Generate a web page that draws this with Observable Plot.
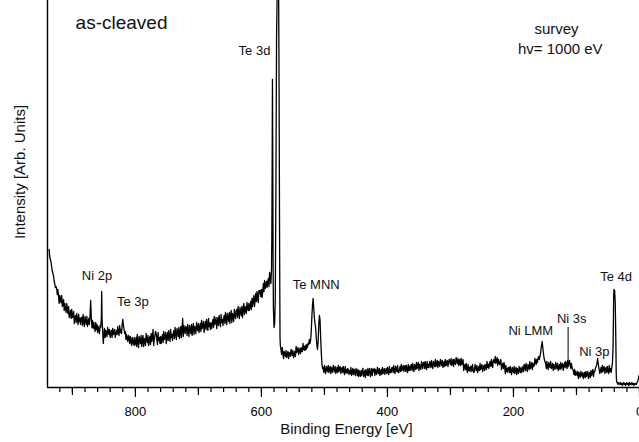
<!DOCTYPE html>
<html>
<head>
<meta charset="utf-8">
<script src="https://cdn.jsdelivr.net/npm/d3@7"></script>
<script src="https://cdn.jsdelivr.net/npm/@observablehq/plot@0.6"></script>
<style>
  html, body { margin: 0; padding: 0; background: #fff; overflow: hidden; }
  #chart svg { display: block; }
</style>
</head>
<body>
<div id="chart"></div>
<script>
// XPS survey spectrum, [binding energy (eV), intensity (arb. units)]
const spectrum = [
  // Ni 2p / Te 3p region
  [937,138],[936,131],[935,128],[934,126],[933,121],[932,117],[931,114],[930,112],[929,107],[928,104],
  [927,100],[926,101],[925,99],[924,93],[923,98],[922,91],[921,84],[920,92],[919,88],[918,85],
  [917,92],[916,81],[915,83],[914,88],[913,77],[912,84],[911,80],[910,75],[909,84],[908,78],
  [907,74],[906,81],[905,70],[904,73],[903,77],[902,69],[901,78],[900,70],[899,72],[898,76],
  [897,64],[896,70],[895,72],[894,65],[893,74],[892,68],[891,63],[890,73],[889,66],[888,69],
  [887,63],[886,70],[885,70],[884,62],[883,73],[882,66],[881,61],[880,71],[879,67],[878,63],
  [877,71],[876,61],[875,65],[874,69],[873,63],[872,72],[871,87],[870,70],[869,60],[868,67],
  [867,59],[866,65],[865,61],[864,56],[863,65],[862,58],[861,63],[860,55],[859,61],[858,57],
  [857,54],[856,62],[855,60],[854,70],[853.5,96],[853,70],[852,58],[851,44],[850,52],[849,59],
  [848,50],[847,57],[846,54],[845,51],[844,60],[843,56],[842,53],[841,58],[840,50],[839,54],
  [838,57],[837,50],[836,59],[835,53],[834,55],[833,58],[832,50],[831,54],[830,57],[829,53],
  [828,61],[827,56],[826,52],[825,62],[824,55],[823,58],[822,54],[821,63],[820,68],[819,62],
  [818,58],[817,54],[816,56],[815,48],[814,53],[813,49],[812,46],[811,52],[810,50],[809,44],
  [808,51],[807,47],[806,42],[805,50],[804,46],[803,43],[802,50],[801,42],[800,45],
  // rising background towards Te 3d
  [799,50],[798,41],[797,53],[796,45],[795,40],[794,51],[793,47],[792,44],[791,52],[790,41],
  [789,48],[788,52],[787,41],[786,49],[785,46],[784,42],[783,54],[782,48],[781,45],[780,52],
  [779,42],[778,47],[777,51],[776,43],[775,54],[774,46],[773,50],[772,58],[771,42],[770,48],
  [769,52],[768,56],[767,54],[766,48],[765,43],[764,55],[763,47],[762,50],[761,44],[760,51],
  [759,44],[758,49],[757,53],[756,45],[755,56],[754,48],[753,51],[752,55],[751,44],[750,50],
  [749,55],[748,47],[747,57],[746,51],[745,46],[744,58],[743,50],[742,53],[741,47],[740,54],
  [739,57],[738,49],[737,60],[736,53],[735,48],[734,59],[733,55],[732,51],[731,60],[730,49],
  [729,56],[728,61],[727,50],[726,58],[725,69],[724,51],[723,62],[722,57],[721,54],[720,61],
  [719,60],[718,52],[717,63],[716,56],[715,51],[714,62],[713,58],[712,54],[711,63],[710,52],
  [709,59],[708,64],[707,53],[706,61],[705,58],[704,54],[703,65],[702,60],[701,57],[700,64],
  [699,55],[698,60],[697,64],[696,56],[695,67],[694,59],[693,62],[692,66],[691,55],[690,61],
  [689,66],[688,58],[687,68],[686,62],[685,57],[684,69],[683,61],[682,64],[681,58],[680,65],
  [679,59],[678,64],[677,68],[676,60],[675,71],[674,63],[673,66],[672,70],[671,59],[670,65],
  [669,70],[668,62],[667,72],[666,66],[665,61],[664,73],[663,65],[662,68],[661,62],[660,69],
  [659,72],[658,64],[657,75],[656,68],[655,63],[654,74],[653,70],[652,66],[651,75],[650,64],
  [649,72],[648,77],[647,65],[646,74],[645,70],[644,66],[643,78],[642,72],[641,69],[640,77],
  [639,78],[638,70],[637,81],[636,74],[635,69],[634,80],[633,76],[632,72],[631,81],[630,70],
  [629,79],[628,84],[627,73],[626,81],[625,78],[624,74],[623,85],[622,80],[621,77],[620,84],
  [619,77],[618,82],[617,86],[616,78],[615,89],[614,81],[613,88],[612,92],[611,81],[610,87],
  [609,94],[608,86],[607,96],[606,90],[605,85],[604,97],[603,94],[602,97],[601,91],[600,98],
  [599,90],[598,95],[597,104],[596,96],[595,107],[594,99],[593,102],[592,106],[591,100],[590,106],
  [589,109],[588,101],[587,115],[586,109],[585,104],
  // Te 3d doublet and Te MNN Auger
  [584,118],[583.5,150],[583,220],[582.5,308],[582,230],[581.5,130],[581,80],[580,60],[579,64],[578,90],
  [577,200],[576,350],[574,440],[573,440],[572,300],[571,120],[570.5,50],[570,42],[569,38],[568,33],
  [567,40],[566,35],[565,29],[564,36],[563,34],[562,31],[561,37],[560,30],[559,33],[558,36],
  [557,29],[556,35],[555,33],[554,31],[553,38],[552,35],[551,32],[550,37],[549,30],[548,33],
  [547,36],[546,31],[545,41],[544,35],[543,38],[542,40],[541,33],[540,37],[539,39],[538,34],
  [537,40],[536,36],[535,36],[534,44],[533,38],[532,41],[531,37],[530,42],[529,38],[528,43],
  [527,40],[526,44],[525,43],[524,48],[523,44],[522,47],[521,55],[520,70],[519,82],[518,89],
  [517,80],[516,70],[515,64],[514,60],[513,50],[512,42],[511,38],[510,46],[509,62],[508,72],
  [507,68],[506,50],[505,35],[504,24],[503,19],
  // low background
  [502,20],[501,15],[500,22],[499,17],[498,14],[497,21],[496,19],[495,16],[494,22],[493,15],
  [492,18],[491,21],[490,14],[489,20],[488,17],[487,15],[486,22],[485,19],[484,16],[483,21],
  [482,14],[481,17],[480,20],[479,15],[478,22],[477,16],[476,19],[475,21],[474,14],[473,18],
  [472,20],[471,15],[470,21],[469,16],[468,13],[467,21],[466,15],[465,18],[464,14],[463,19],
  [462,18],[461,13],[460,17],[459,14],[458,20],[457,12],[456,15],[455,19],[454,13],[453,18],
  [452,16],[451,12],[450,19],[449,16],[448,12],[447,18],[446,11],[445,17],[444,13],[443,11],
  [442,17],[441,12],[440,16],[439,19],[438,11],[437,13],[436,17],[435,10],[434,18],[433,14],
  [432,12],[431,19],[430,12],[429,16],[428,19],[427,11],[426,14],[425,19],[424,12],[423,18],
  [422,16],[421,19],[420,12],[419,18],[418,15],[417,13],[416,20],[415,17],[414,14],[413,19],
  [412,12],[411,15],[410,18],[409,13],[408,20],[407,14],[406,17],[405,19],[404,13],[403,17],
  [402,19],[401,14],[400,20],[399,16],[398,13],[397,21],[396,15],[395,18],[394,15],[393,20],
  [392,20],[391,15],[390,22],[389,17],[388,14],[387,21],[386,19],[385,16],[384,22],[383,15],
  [382,15],[381,18],[380,21],[379,16],[378,23],[377,17],[376,20],[375,22],[374,16],[373,20],
  [372,22],[371,16],[370,22],[369,18],[368,15],[367,23],[366,17],[365,21],[364,17],[363,22],
  [362,23],[361,17],[360,24],[359,19],[358,16],[357,23],[356,21],[355,18],[354,25],[353,19],
  [352,21],[351,25],[350,17],[349,23],[348,20],[347,18],[346,26],[345,22],[344,19],[343,25],
  [342,25],[341,19],[340,26],[339,21],[338,18],[337,26],[336,20],[335,23],[334,20],[333,26],
  [332,25],[331,20],[330,27],[329,22],[328,19],[327,26],[326,24],[325,21],[324,28],[323,21],
  [322,24],[321,27],[320,20],[319,26],[318,23],[317,21],[316,28],[315,25],[314,22],[313,27],
  [312,20],[311,23],[310,26],[309,21],[308,28],[307,22],[306,25],[305,27],[304,21],[303,25],
  [302,28],[301,26],[300,23],[299,29],[298,22],[297,25],[296,28],[295,21],[294,28],[293,25],
  [292,23],[291,30],[290,27],[289,24],[288,29],[287,22],[286,25],[285,28],[284,22],[283,29],
  [282,23],[281,26],[280,28],[279,17],[278,21],[277,23],[276,18],[275,24],[274,18],[273,15],
  [272,23],[271,17],[270,20],[269,16],[268,21],[267,21],[266,16],[265,23],[264,18],[263,15],
  [262,16],[261,23],[260,20],[259,17],[258,22],[257,15],[256,18],[255,21],[254,17],[253,24],
  [252,18],[251,21],[250,23],[249,16],[248,20],[247,22],[246,17],[245,23],[244,21],[243,18],
  [242,26],[241,20],[240,23],[239,19],[238,24],[237,26],[236,21],[235,28],[234,23],[233,20],
  [232,27],[231,28],[230,25],[229,31],[228,24],[227,27],[226,30],[225,22],[224,28],[223,25],
  [222,23],[221,26],[220,28],[219,18],[218,22],[217,24],[216,19],[215,25],[214,21],[213,14],
  [212,22],[211,16],[210,19],[209,15],[208,20],[207,20],[206,15],[205,21],[204,16],[203,13],
  [202,20],[201,18],[200,15],[199,21],[198,14],[197,17],[196,20],[195,13],[194,19],[193,16],
  [192,14],[191,21],[190,18],[189,15],[188,20],[187,15],[186,18],[185,21],[184,16],[183,23],
  [182,22],[181,17],[180,24],[179,19],[178,16],[177,23],[176,21],[175,18],[174,26],[173,19],
  [172,22],[171,25],[170,18],[169,24],[168,21],[167,22],[166,29],[165,26],[164,23],[163,28],
  // Ni LMM, Ni 3s, Ni 3p
  [162,25],[161,29],[160,31],[159,28],[158,31],[157,34],[156,40],[155,44],[154.5,46],[154,43],
  [153,37],[152,32],[151,28],[150,26],[149,24],[148,19],[147,26],[146,21],[145,18],[144,25],
  [143,23],[142,20],[141,26],[140,19],[139,21],[138,24],[137,17],[136,23],[135,20],[134,18],
  [133,25],[132,22],[131,19],[130,24],[129,17],[128,20],[127,23],[126,18],[125,25],[124,19],
  [123,22],[122,24],[121,17],[120,21],[119,25],[118,20],[117,26],[116,22],[115,19],[114,27],
  [113,21],[112,24],[111,27],[110,23],[109,19],[108,24],[107,20],[106,18],[105,17],[104,13],
  [103,18],[102,12],[101,16],[100,14],[99,12],[98,16],[97,9],[96,15],[95,12],[94,10],
  [93,16],[92,13],[91,11],[90,15],[89,9],[88,12],[87,15],[86,10],[85,16],[84,11],
  [83,13],[82,16],[81,9],[80,12],[79,15],[78,10],[77,17],[76,12],[75,15],[74,18],
  [73,11],[72,16],[71,16],[70,19],[69,21],[68,22],[67,26],[66.5,29],[66,26],[65,22],
  [64,18],[63,14],[62,17],[61,20],[60,15],[59,22],[58,16],[57,19],[56,21],[55,14],
  [54,18],[53,20],[52,15],[51,21],[50,17],[49,14],[48,22],[47,16],[46,19],[45,15],
  [44,20],[43,24],
  // Te 4d and valence region
  [42,40],[41.5,62],[41,90],[40.5,98],[40,95],[39.5,97],[38.5,85],[37.5,45],[37,15],[36.5,7],
  [36,6],[35,4],[34,3],[33,5],[32,4],[31,3],[30,5],[29,3],[28,4],[27,2],
  [26,4],[25,5],[24,3],[23,4],[22,2],[21,4],[20,5],[19,3],[18,4],[17,2],
  [16,5],[15,3],[14,4],[13,3],[12,5],[11,3],[10,4],[9,2],[8,4],[7,3],
  [6,4],[5,3],[4,5],[3,6],[2,8],[1,11],[0,13]
];

// Peak assignments: label, energy (eV), intensity where the label sits
const peakLabels = ["Te 3d", "Ni 2p", "Te 3p", "Te MNN", "Ni LMM", "Ni 3s", "Ni 3p", "Te 4d"];
const peakLabelEnergy = [611, 861, 804, 513, 172.5, 107.5, 71.7, 37];
const peakLabelLevel = [337, 112, 86, 103, 57, 68.7, 35.3, 111];

// Ni 3s marker line (energy, from, to)
const ni3sMarker = [{e: 113.3, from: 25, to: 60}];

// Panel notes
const notes = ["as-cleaved", "survey", "hv= 1000 eV"];
const noteEnergy = [822, 131.7, 125.7];
const noteLevel = [364.3, 358, 338.7];
const noteSize = [19, 15, 15];

// Axis ticks
const labeledTicks = [800, 600, 400, 200, 0];
const hundredTicks = [900, 700, 500, 300, 100];
const minorTicks = d3.range(0, 940, 20);

const energyDomain = [939.5, 0];
const font = "'Liberation Sans', Arial, Helvetica, sans-serif";

const points = spectrum.map(([e, v]) => ({e, v}));
const peaks = peakLabels.map((t, i) => ({t, e: peakLabelEnergy[i], v: peakLabelLevel[i]}));
const panel = notes.map((t, i) => ({t, e: noteEnergy[i], v: noteLevel[i], s: noteSize[i]}));

const chart = Plot.plot({
  width: 639,
  height: 442,
  marginLeft: 47,
  marginRight: 0,
  marginTop: 0,
  marginBottom: 55,
  style: {fontFamily: font, background: "#fff", color: "#000", overflow: "visible"},
  x: {domain: energyDomain, label: null},
  y: {domain: [0, 387], axis: null},
  marks: [
    Plot.axisX({ticks: minorTicks, tickSize: 5, tickFormat: () => "", strokeWidth: 1.2, label: null}),
    Plot.axisX({ticks: hundredTicks, tickSize: 8, tickFormat: () => "", strokeWidth: 1.2, label: null}),
    Plot.axisX({ticks: labeledTicks, tickSize: 10, tickPadding: 9, fontSize: 13, strokeWidth: 1.2, label: null}),
    Plot.ruleY([0], {stroke: "#000", strokeWidth: 1.4}),
    Plot.ruleX([energyDomain[0]], {stroke: "#000", strokeWidth: 1.4}),
    Plot.line(points, {x: "e", y: "v", stroke: "#000", strokeWidth: 1.3, clip: true}),
    Plot.ruleX(ni3sMarker, {x: "e", y1: "from", y2: "to", stroke: "#000", strokeWidth: 1}),
    Plot.text(peaks, {x: "e", y: "v", text: "t", fontSize: 13, fill: "#111"}),
    Plot.text(panel, {x: "e", y: "v", text: "t", fontSize: "s", fill: "#111"}),
    Plot.text(["Binding Energy [eV]"], {frameAnchor: "bottom", lineAnchor: "middle", dx: 3, dy: 42, fontSize: 15, fill: "#111"}),
    Plot.text(["Intensity [Arb. Units]"], {frameAnchor: "left", textAnchor: "middle", dx: -27, dy: -22, rotate: -90, fontSize: 15, fill: "#111"})
  ]
});

document.getElementById("chart").append(chart);
</script>
</body>
</html>
